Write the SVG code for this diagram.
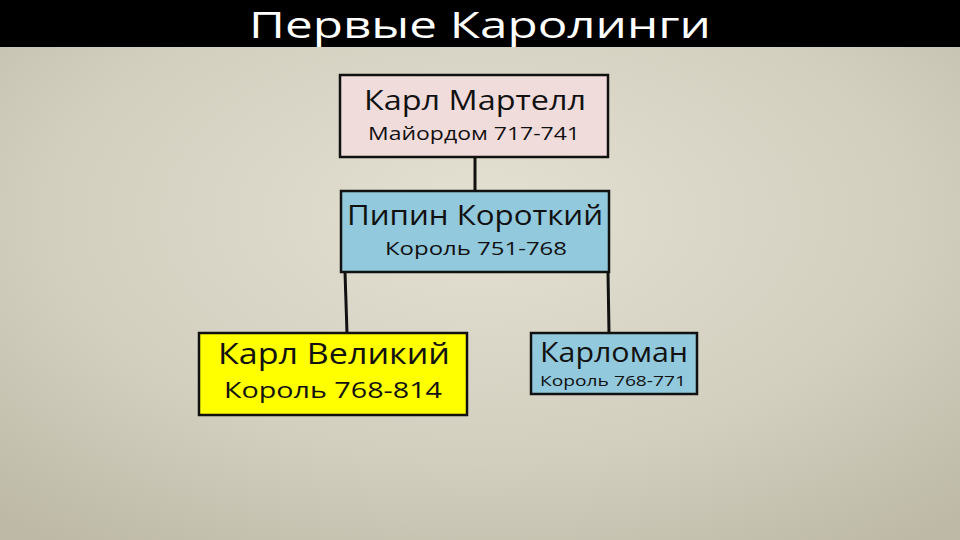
<svg xmlns="http://www.w3.org/2000/svg" width="960" height="540" viewBox="0 0 960 540">
<defs>
<radialGradient id="bg" cx="50%" cy="40%" r="75%">
<stop offset="0" stop-color="#e4e0d2"/>
<stop offset="0.6" stop-color="#d3cfbf"/>
<stop offset="1" stop-color="#bdb9a6"/>
</radialGradient>
<style>
.box{stroke:#111;stroke-width:2.5}
.t{font-family:"Open Sans","Noto Sans",sans-serif;fill:#111;text-anchor:middle}
.ln{stroke:#111;stroke-width:3;fill:none}
</style>
</defs>
<rect width="960" height="540" fill="url(#bg)"/>
<rect width="960" height="47" fill="#000"/>
<text x="480" y="38" font-family="'Open Sans','Noto Sans',sans-serif" font-size="36" fill="#fff" text-anchor="middle" textLength="462" lengthAdjust="spacingAndGlyphs">Первые Каролинги</text>
<g id="connectors">
<line class="ln" x1="475" y1="157" x2="475" y2="191"/>
<line class="ln" x1="345" y1="272" x2="347" y2="333"/>
<line class="ln" x1="608" y1="272" x2="609" y2="333"/>
</g>
<g id="n1">
<rect class="box" x="340" y="75" width="268" height="82" fill="#f1dcdc"/>
<text class="t" x="475" y="110" font-size="27" textLength="222" lengthAdjust="spacingAndGlyphs">Карл Мартелл</text>
<text class="t" x="474" y="140" font-size="19" textLength="212" lengthAdjust="spacingAndGlyphs">Майордом 717-741</text>
</g>
<g id="n2">
<rect class="box" x="341" y="191" width="268" height="81" fill="#92c9dd"/>
<text class="t" x="475" y="225" font-size="27" textLength="256" lengthAdjust="spacingAndGlyphs">Пипин Короткий</text>
<text class="t" x="476" y="255" font-size="19" textLength="182" lengthAdjust="spacingAndGlyphs">Король 751-768</text>
</g>
<g id="n3">
<rect class="box" x="199" y="333" width="268" height="82" fill="#ffff00"/>
<text class="t" x="334" y="364" font-size="29" textLength="232" lengthAdjust="spacingAndGlyphs">Карл Великий</text>
<text class="t" x="333" y="398" font-size="22" textLength="218" lengthAdjust="spacingAndGlyphs">Король 768-814</text>
</g>
<g id="n4">
<rect class="box" x="531" y="333" width="166" height="61" fill="#92c9dd"/>
<text class="t" x="614" y="362" font-size="27" textLength="148" lengthAdjust="spacingAndGlyphs">Карломан</text>
<text class="t" x="613" y="386" font-size="14" textLength="146" lengthAdjust="spacingAndGlyphs">Король 768-771</text>
</g>
</svg>
